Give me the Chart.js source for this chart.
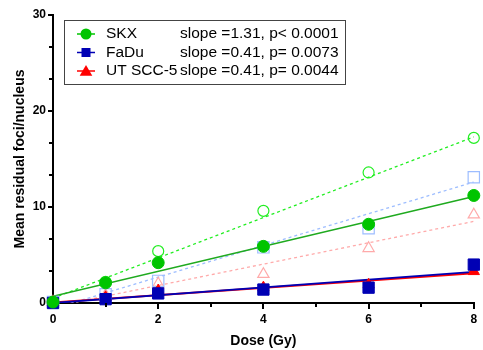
<!DOCTYPE html>
<html>
<head>
<meta charset="utf-8">
<script src="https://cdn.jsdelivr.net/npm/chart.js@4.4.0/dist/chart.umd.min.js"></script>
<style>
    html, body { margin: 0; padding: 0; background: #fff; }
    #wrap { width: 483px; height: 350px; }
</style>
</head>
<body>
<div id="wrap"><canvas id="chart" width="483" height="350"></canvas></div>
<script>
// Data
const doses = [0, 1, 2, 4, 6, 8];
const skxFilled = [0.1, 2.1, 4.2, 5.9, 8.2, 11.2];
const skxOpen = [0.1, 2.2, 5.4, 9.6, 13.6, 17.2];
const fadFilled = [0, 0.4, 1.0, 1.4, 1.6, 4.0];
const fadOpen = [0.1, 0.9, 2.3, 5.8, 7.8, 13.1];
const utFilled = [0.1, 0.6, 1.3, 1.6, 1.9, 3.3];
const utOpen = [0.1, 0.8, 2.0, 3.0, 5.7, 9.2];

// Fit lines: value at dose 0 and dose 8
const fitX = [0, 8];
const skxFit = [0.7, 11.1];
const skxOpenFit = [0.5, 17.3];
const fadFit = [0, 3.25];
const fadOpenFit = [-0.6, 12.6];
const utFit = [0.05, 3.1];
const utOpenFit = [-0.4, 8.5];

const xMajor = [0, 2, 4, 6, 8];
const xMinor = [1, 3, 5, 7];
const yMajor = [0, 10, 20, 30];
const yMinor = [10 / 3, 20 / 3, 40 / 3, 50 / 3, 70 / 3, 80 / 3];

const legendNames = ['SKX', 'FaDu', 'UT SCC-5'];
const legendStats = ['slope =1.31, p< 0.0001', 'slope =0.41, p= 0.0073', 'slope =0.41, p= 0.0044'];

const GREEN = '#00c400';
const GREEN_LINE = '#1faa1f';
const GREEN_LIGHT = '#22ee22';
const BLUE = '#0000b4';
const BLUE_LIGHT = '#9dbdff';
const RED = '#ff0000';
const RED_LIGHT = '#ffaaaa';

function pts(ys) {
    return doses.map((d, i) => ({ x: d, y: ys[i] }));
}
function fit(ys) {
    return fitX.map((d, i) => ({ x: d, y: ys[i] }));
}

function markerSet(label, ys, style, radius, fillColor, borderColor, bw) {
    return {
        label: label,
        data: pts(ys),
        showLine: false,
        pointStyle: style,
        pointRadius: radius,
        pointHoverRadius: radius,
        pointBackgroundColor: fillColor,
        pointBorderColor: borderColor,
        pointBorderWidth: bw,
        clip: false
    };
}
function lineSet(label, ys, color, width, dash) {
    return {
        label: label,
        data: fit(ys),
        showLine: true,
        borderColor: color,
        borderWidth: width,
        borderDash: dash,
        pointRadius: 0,
        fill: false
    };
}

// Draws the marker shape used in the legend
function drawMarker(ctx, style, x, y, r, color) {
    ctx.fillStyle = color;
    ctx.beginPath();
    if (style === 'circle') {
        ctx.arc(x, y, r, 0, Math.PI * 2);
    } else if (style === 'rect') {
        ctx.rect(x - r, y - r, 2 * r, 2 * r);
    } else {
        ctx.moveTo(x, y - r);
        ctx.lineTo(x + r * 1.05, y + r * 0.8);
        ctx.lineTo(x - r * 1.05, y + r * 0.8);
        ctx.closePath();
    }
    ctx.fill();
}

const extrasPlugin = {
    id: 'extras',
    afterDraw(chart) {
        const ctx = chart.ctx;
        const xs = chart.scales.x;
        const ys = chart.scales.y;
        const area = chart.chartArea;
        ctx.save();
        // minor ticks
        ctx.strokeStyle = '#000';
        ctx.lineWidth = 2;
        xMinor.forEach(v => {
            const px = Math.round(xs.getPixelForValue(v));
            ctx.beginPath();
            ctx.moveTo(px, area.bottom);
            ctx.lineTo(px, area.bottom + 4);
            ctx.stroke();
        });
        yMinor.forEach(v => {
            const py = Math.round(ys.getPixelForValue(v));
            ctx.beginPath();
            ctx.moveTo(area.left, py);
            ctx.lineTo(area.left - 4, py);
            ctx.stroke();
        });

        // legend box
        const bx = 64, by = 20, bw = 281, bh = 64;
        ctx.fillStyle = '#fff';
        ctx.fillRect(bx, by, bw, bh);
        ctx.strokeStyle = '#444';
        ctx.lineWidth = 1;
        ctx.strokeRect(bx + 0.5, by + 0.5, bw, bh);

        const rows = [34, 52.5, 71];
        const colors = [GREEN, BLUE, RED];
        const styles = ['circle', 'rect', 'triangle'];
        const sizes = [5.5, 4.5, 6];
        ctx.font = '15.5px "Liberation Sans", Arial, sans-serif';
        ctx.textBaseline = 'middle';
        rows.forEach((ry, i) => {
            ctx.strokeStyle = colors[i];
            ctx.lineWidth = 1.5;
            ctx.beginPath();
            ctx.moveTo(77, ry);
            ctx.lineTo(95, ry);
            ctx.stroke();
            drawMarker(ctx, styles[i], 86, ry, sizes[i], colors[i]);
            ctx.fillStyle = '#000';
            ctx.textAlign = 'left';
            ctx.fillText(legendNames[i], 106, ry);
            ctx.fillText(legendStats[i], 180, ry);
        });
        ctx.restore();
    }
};

const ctx = document.getElementById('chart').getContext('2d');
const chart = new Chart(ctx, {
    type: 'scatter',
    data: {
        datasets: [
            markerSet('SKX', skxFilled, 'circle', 6, GREEN, GREEN, 1),
            markerSet('FaDu', fadFilled, 'rect', 8, BLUE, BLUE, 1),
            markerSet('UT SCC-5', utFilled, 'triangle', 6.5, RED, RED, 1),
            markerSet('SKX open', skxOpen, 'circle', 5.5, 'rgba(0,0,0,0)', GREEN_LIGHT, 1.2),
            markerSet('FaDu open', fadOpen, 'rect', 8, 'rgba(0,0,0,0)', BLUE_LIGHT, 1.2),
            markerSet('UT open', utOpen, 'triangle', 6.5, 'rgba(0,0,0,0)', RED_LIGHT, 1.2),
            lineSet('SKX fit', skxFit, GREEN_LINE, 1.5, []),
            lineSet('FaDu fit', fadFit, BLUE, 1.8, []),
            lineSet('UT fit', utFit, RED, 1.8, []),
            lineSet('SKX open fit', skxOpenFit, GREEN_LIGHT, 1.3, [3, 3]),
            lineSet('FaDu open fit', fadOpenFit, BLUE_LIGHT, 1.3, [3, 3]),
            lineSet('UT open fit', utOpenFit, RED_LIGHT, 1.3, [3, 3])
        ]
    },
    options: {
        responsive: false,
        animation: false,
        layout: { padding: { top: 15, right: 5, left: 0, bottom: 0 } },
        plugins: {
            legend: { display: false },
            tooltip: { enabled: false }
        },
        scales: {
            x: {
                type: 'linear',
                min: 0,
                max: 8,
                afterFit: s => { s.height = 47; },
                afterBuildTicks: s => { s.ticks = xMajor.map(v => ({ value: v })); },
                border: { display: true, color: '#000', width: 2 },
                grid: { display: true, drawOnChartArea: false, drawTicks: true, tickLength: 6, color: '#000', lineWidth: 2 },
                ticks: {
                    color: '#000',
                    padding: 3,
                    maxRotation: 0,
                    font: { family: '"Liberation Sans", Arial, sans-serif', size: 12, weight: 'bold' }
                },
                title: {
                    display: true,
                    text: 'Dose (Gy)',
                    color: '#000',
                    padding: { top: 0, bottom: 0 },
                    font: { family: '"Liberation Sans", Arial, sans-serif', size: 14, weight: 'bold' }
                }
            },
            y: {
                type: 'linear',
                min: 0,
                max: 30,
                afterFit: s => { s.width = 53; },
                afterBuildTicks: s => { s.ticks = yMajor.map(v => ({ value: v })); },
                border: { display: true, color: '#000', width: 2 },
                grid: { display: true, drawOnChartArea: false, drawTicks: true, tickLength: 5, color: '#000', lineWidth: 2 },
                ticks: {
                    color: '#000',
                    padding: 2,
                    font: { family: '"Liberation Sans", Arial, sans-serif', size: 12, weight: 'bold' }
                },
                title: {
                    display: true,
                    text: 'Mean residual foci/nucleus',
                    color: '#000',
                    padding: { top: 12, bottom: 0 },
                    font: { family: '"Liberation Sans", Arial, sans-serif', size: 14, weight: 'bold' }
                }
            }
        }
    },
    plugins: [extrasPlugin]
});
</script>
</body>
</html>
